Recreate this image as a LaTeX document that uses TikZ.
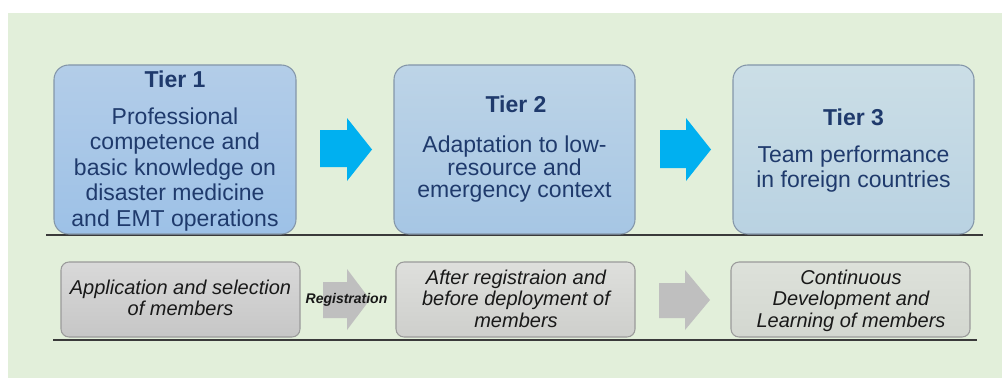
\documentclass[tikz,border=0pt]{standalone}
\usepackage{fontspec}
\setmainfont{Liberation Sans}
\definecolor{bg}{HTML}{E2EFDA}
\definecolor{tonetop}{HTML}{B3CDE8}
\definecolor{tonebot}{HTML}{9DC1E7}
\definecolor{ttwotop}{HTML}{BDD4E7}
\definecolor{ttwobot}{HTML}{A6C6E4}
\definecolor{tthreetop}{HTML}{CBDEE6}
\definecolor{tthreebot}{HTML}{B9D2E2}
\definecolor{bonetop}{HTML}{D9D9D9}
\definecolor{bonebot}{HTML}{C6C6C6}
\definecolor{btwotop}{HTML}{DEDFDC}
\definecolor{btwobot}{HTML}{CECFCC}
\definecolor{bthreetop}{HTML}{DDE1DA}
\definecolor{bthreebot}{HTML}{D3D7D0}
\definecolor{cyanarrow}{HTML}{00B0F0}
\definecolor{grayarrow}{HTML}{BFBFBF}
\definecolor{navy}{HTML}{1F3A6C}
\definecolor{tierborder}{HTML}{8496A9}
\definecolor{boxborder}{HTML}{9A9A9A}
\definecolor{sepline}{HTML}{3A3A3A}
\begin{document}
\begin{tikzpicture}[x=0.75pt,y=-0.75pt,
  tierbox/.style={draw=tierborder,line width=0.8pt,rounded corners=11pt,
    minimum width=241*0.75pt,minimum height=169*0.75pt,inner sep=0pt},
  stagebox/.style={draw=boxborder,line width=0.8pt,rounded corners=6pt,
    minimum width=239*0.75pt,minimum height=75*0.75pt,inner sep=0pt},
  tierhead/.style={inner sep=0pt,anchor=base,text=navy,font=\bfseries\fontsize{17.25}{19}\selectfont},
  tiertext/.style={inner sep=0pt,anchor=base,text=navy,align=center},
  stagetext/.style={inner sep=0pt,anchor=base,text=black!90,align=center},
  sepstyle/.style={draw=sepline,line width=0.9pt},
  bluearrow/.style={fill=cyanarrow},
  greyarrow/.style={fill=grayarrow}]
\useasboundingbox (0,0) rectangle (1002,378);
\fill[bg] (8,13) rectangle (1002,378);

% separator lines
\coordinate (lineAa) at (46,235);
\coordinate (lineAb) at (983,235);
\coordinate (lineBa) at (53,340);
\coordinate (lineBb) at (977,340);
\draw[sepstyle] (lineAa) -- (lineAb);
\draw[sepstyle] (lineBa) -- (lineBb);

% tier boxes
\node[tierbox,top color=tonetop,bottom color=tonebot,minimum width=242*0.75pt] (t1) at (175,149.5) {};
\node[tierbox,top color=ttwotop,bottom color=ttwobot] (t2) at (514.5,149.5) {};
\node[tierbox,top color=tthreetop,bottom color=tthreebot] (t3) at (853.5,149.5) {};

\node[tierhead] (h1) at (175,88) {Tier 1};
\node[tiertext,font=\fontsize{17.25}{19.1}\selectfont] (b1) at (175,226)
  {Professional\\competence and\\basic knowledge on\\disaster medicine\\and EMT operations};
\node[tierhead] (h2) at (516,113) {Tier 2};
\node[tiertext,font=\fontsize{17.25}{16}\selectfont] (b2) at (514.5,197)
  {Adaptation to low-\\resource and\\emergency context};
\node[tierhead] (h3) at (853.5,125) {Tier 3};
\node[tiertext,font=\fontsize{17.25}{18.75}\selectfont] (b3) at (853.5,187)
  {Team performance\\in foreign countries};

% blue arrows
\fill[bluearrow] (320,130) -- (347,130) -- (347,118) -- (372,149.5) -- (347,181) -- (347,167) -- (320,167) -- cycle;
\fill[bluearrow] (660,130) -- (686,130) -- (686,118) -- (711,149.5) -- (686,181) -- (686,168) -- (660,168) -- cycle;

% stage boxes
\node[stagebox,top color=bonetop,bottom color=bonebot] (s1) at (180.5,299.5) {};
\node[stagebox,top color=btwotop,bottom color=btwobot] (s2) at (515.5,299.5) {};
\node[stagebox,top color=bthreetop,bottom color=bthreebot] (s3) at (850.5,299.5) {};

% grey arrows
\fill[greyarrow] (323,282) -- (347,282) -- (347,269) -- (370,299.5) -- (347,330) -- (347,318) -- (323,318) -- cycle;
\fill[greyarrow] (659,283) -- (685,283) -- (685,270) -- (710,300) -- (685,330) -- (685,318) -- (659,318) -- cycle;

\node[stagetext,font=\itshape\fontsize{15}{15.75}\selectfont] (x1) at (180.5,315)
  {Application and selection\\of members};
\node[stagetext,font=\itshape\fontsize{15}{16.1}\selectfont] (x2) at (516,327)
  {After registraion and\\before deployment of\\members};
\node[stagetext,font=\itshape\fontsize{15}{16.1}\selectfont] (x3) at (851,327)
  {Continuous\\Development and\\Learning of members};
\node[inner sep=0pt,anchor=base,text=black!90,font=\bfseries\itshape\fontsize{10.5}{12}\selectfont] (reg) at (346.5,303) {Registration};
\end{tikzpicture}
\end{document}
